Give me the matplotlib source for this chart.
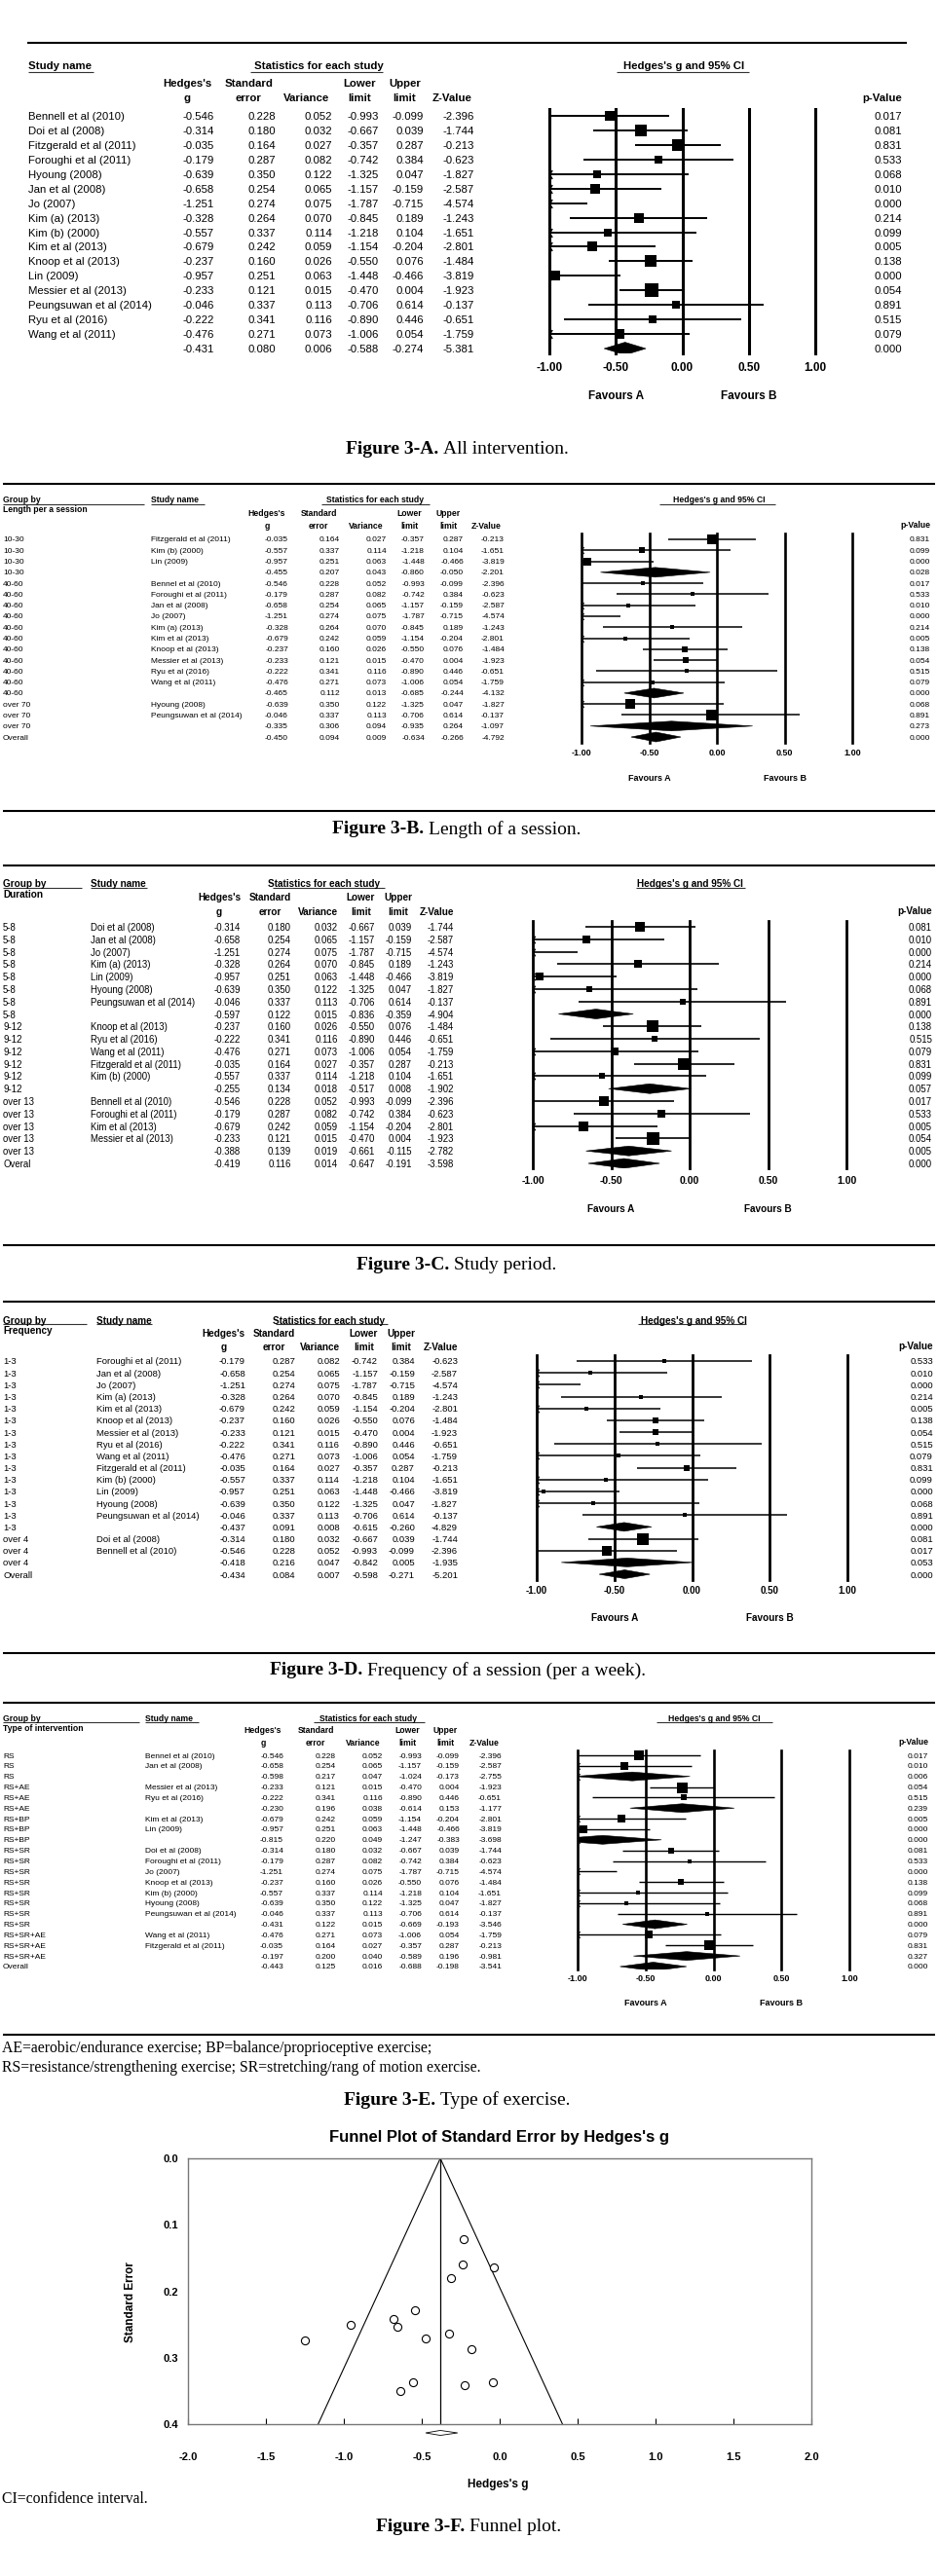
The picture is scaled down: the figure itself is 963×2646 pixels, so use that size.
import numpy as np
import matplotlib
matplotlib.use("Agg")
import matplotlib.pyplot as plt
from matplotlib.transforms import Affine2D, blended_transform_factory
from matplotlib.patches import Polygon
from matplotlib.path import Path
from matplotlib.lines import Line2D

plt.rcParams['font.family'] = ['Liberation Sans', 'DejaVu Sans']
SERIF = ['Liberation Serif', 'DejaVu Serif']

# ------------------------------------------------------------------ data
study_names = ["Bennell et al (2010)", "Doi et al (2008)", "Fitzgerald et al (2011)",
               "Foroughi et al (2011)", "Hyoung (2008)", "Jan et al (2008)", "Jo (2007)",
               "Kim (a) (2013)", "Kim (b) (2000)", "Kim et al (2013)", "Knoop et al (2013)",
               "Lin (2009)", "Messier et al (2013)", "Peungsuwan et al (2014)",
               "Ryu et al (2016)", "Wang et al (2011)"]
hedges_g = [-0.546, -0.314, -0.035, -0.179, -0.639, -0.658, -1.251, -0.328,
            -0.557, -0.679, -0.237, -0.957, -0.233, -0.046, -0.222, -0.476]
std_err = [0.228, 0.180, 0.164, 0.287, 0.350, 0.254, 0.274, 0.264,
           0.337, 0.242, 0.160, 0.251, 0.121, 0.337, 0.341, 0.271]
variance = [0.052, 0.032, 0.027, 0.082, 0.122, 0.065, 0.075, 0.070,
            0.114, 0.059, 0.026, 0.063, 0.015, 0.113, 0.116, 0.073]
lower_limit = [-0.993, -0.667, -0.357, -0.742, -1.325, -1.157, -1.787, -0.845,
               -1.218, -1.154, -0.550, -1.448, -0.470, -0.706, -0.890, -1.006]
upper_limit = [-0.099, 0.039, 0.287, 0.384, 0.047, -0.159, -0.715, 0.189,
               0.104, -0.204, 0.076, -0.466, 0.004, 0.614, 0.446, 0.054]
z_value = [-2.396, -1.744, -0.213, -0.623, -1.827, -2.587, -4.574, -1.243,
           -1.651, -2.801, -1.484, -3.819, -1.923, -0.137, -0.651, -1.759]
p_value = [0.017, 0.081, 0.831, 0.533, 0.068, 0.010, 0.000, 0.214,
           0.099, 0.005, 0.138, 0.000, 0.054, 0.891, 0.515, 0.079]

# summary rows: [g, se, variance, lower, upper, z, p]
all_summary = [-0.431, 0.080, 0.006, -0.588, -0.274, -5.381, 0.000]

length_groups = ["10-30", "40-60", "over 70"]
length_members = [[2, 8, 11], [0, 3, 5, 6, 7, 9, 10, 12, 14, 15], [4, 13]]
length_summaries = [[-0.455, 0.207, 0.043, -0.860, -0.050, -2.201, 0.028],
                    [-0.465, 0.112, 0.013, -0.685, -0.244, -4.132, 0.000],
                    [-0.335, 0.306, 0.094, -0.935, 0.264, -1.097, 0.273]]
length_overall = [-0.450, 0.094, 0.009, -0.634, -0.266, -4.792, 0.000]

duration_groups = ["5-8", "9-12", "over 13"]
duration_members = [[1, 5, 6, 7, 11, 4, 13], [10, 14, 15, 2, 8], [0, 3, 9, 12]]
duration_summaries = [[-0.597, 0.122, 0.015, -0.836, -0.359, -4.904, 0.000],
                      [-0.255, 0.134, 0.018, -0.517, 0.008, -1.902, 0.057],
                      [-0.388, 0.139, 0.019, -0.661, -0.115, -2.782, 0.005]]
duration_overall = [-0.419, 0.116, 0.014, -0.647, -0.191, -3.598, 0.000]

freq_groups = ["1-3", "over 4"]
freq_members = [[3, 5, 6, 7, 9, 10, 12, 14, 15, 2, 8, 11, 4, 13], [1, 0]]
freq_summaries = [[-0.437, 0.091, 0.008, -0.615, -0.260, -4.829, 0.000],
                  [-0.418, 0.216, 0.047, -0.842, 0.005, -1.935, 0.053]]
freq_overall = [-0.434, 0.084, 0.007, -0.598, -0.271, -5.201, 0.000]

type_groups = ["RS", "RS+AE", "RS+BP", "RS+SR", "RS+SR+AE"]
type_members = [[0, 5], [12, 14], [9, 11], [1, 3, 6, 10, 8, 4, 13], [15, 2]]
type_summaries = [[-0.598, 0.217, 0.047, -1.024, -0.173, -2.755, 0.006],
                  [-0.230, 0.196, 0.038, -0.614, 0.153, -1.177, 0.239],
                  [-0.815, 0.220, 0.049, -1.247, -0.383, -3.698, 0.000],
                  [-0.431, 0.122, 0.015, -0.669, -0.193, -3.546, 0.000],
                  [-0.197, 0.200, 0.040, -0.589, 0.196, -0.981, 0.327]]
type_overall = [-0.443, 0.125, 0.016, -0.688, -0.198, -3.541, 0.000]

REF_TICKS = [-1.0, -0.5, 0.0, 0.5, 1.0]
COL_HEADERS = ["Hedges's\ng", "Standard\nerror", "\nVariance", "Lower\nlimit", "Upper\nlimit", "\nZ-Value"]
TAU2 = 0.03  # between-study variance used for box weights (estimated)

FUNNEL_XTICKS = [-2.0, -1.5, -1.0, -0.5, 0.0, 0.5, 1.0, 1.5, 2.0]
FUNNEL_YTICKS = [0.0, 0.1, 0.2, 0.3, 0.4]
FE_ESTIMATE, FE_LOWER, FE_UPPER = -0.381, -0.475, -0.270

# ------------------------------------------------------------------ figure
W, H, DPI = 963, 2646, 100
fig = plt.figure(figsize=(W / DPI, H / DPI), dpi=DPI)
fig.patch.set_facecolor('white')
PX = Affine2D().scale(1.0 / DPI, -1.0 / DPI).translate(0, H / DPI) + fig.dpi_scale_trans

ARROW = Path([(0.6, 1.0), (0.0, 0.0), (0.6, -1.0)], [Path.MOVETO, Path.LINETO, Path.LINETO])


def ftext(x, y, s, **kw):
    kw.setdefault('va', 'center_baseline')
    return fig.text(x, y, s, transform=PX, **kw)


def rule(x0, x1, y, lw=1.5, color='black'):
    fig.add_artist(Line2D([x0, x1], [y, y], transform=PX, color=color, lw=lw,
                          solid_capstyle='butt'))


def study_vals(i):
    return [hedges_g[i], std_err[i], variance[i], lower_limit[i], upper_limit[i],
            z_value[i], p_value[i]]


def build_rows(groups, members, summaries, overall, overall_label, rename):
    rows = []
    for g, mem, summ in zip(groups, members, summaries):
        w = np.array([1.0 / (variance[i] + TAU2) for i in mem])
        share = w / w.sum()
        for i, sh in zip(mem, share):
            rows.append(dict(group=g, name=rename.get(i, study_names[i]),
                             vals=study_vals(i), kind='study', share=sh))
        rows.append(dict(group=g, name='', vals=summ, kind='summary'))
    rows.append(dict(group=overall_label, name='', vals=overall, kind='summary'))
    return rows


def draw_forest(rows, c):
    ax = fig.add_axes([c['xm1'] / W, 1 - c['ybot'] / H,
                       (c['xp1'] - c['xm1']) / W, (c['ybot'] - c['ytop']) / H])
    ax.patch.set_alpha(0)
    ax.set_xlim(REF_TICKS[0], REF_TICKS[-1])
    r_top = (c['ytop'] - c['row0']) / c['sp']
    r_bot = (c['ybot'] - c['row0']) / c['sp']
    ax.set_ylim(r_bot, r_top)
    for s in ax.spines.values():
        s.set_visible(False)
    ax.set_yticks([])
    ax.set_xticks(REF_TICKS)
    ax.set_xticklabels([f'{t:.2f}' for t in REF_TICKS], fontweight='bold',
                       fontsize=c['tick_fs'])
    ax.tick_params(axis='x', length=0, pad=c['tick_pad'])
    for t in REF_TICKS:
        ax.axvline(t, color='black', lw=c['vlw'], clip_on=False, zorder=1)

    tr = blended_transform_factory(PX, ax.transData)
    fs = c['fs']
    max_share = max(r['share'] for r in rows if r['kind'] == 'study')
    for k, r in enumerate(rows):
        g, se, var, lo, hi, z, p = r['vals']
        if c['group_x'] is not None and r['group']:
            ax.text(c['group_x'], k, r['group'], transform=tr, fontsize=fs,
                    va='center_baseline', ha='left')
        if r['name']:
            ax.text(c['name_x'], k, r['name'], transform=tr, fontsize=fs,
                    va='center_baseline', ha='left')
        for val, xr in zip([g, se, var, lo, hi, z], c['cols']):
            ax.text(xr, k, f'{val:.3f}', transform=tr, fontsize=fs,
                    va='center_baseline', ha='right')
        ax.text(c['p_right'], k, f'{p:.3f}', transform=tr, fontsize=fs,
                va='center_baseline', ha='right')
        if r['kind'] == 'study':
            ax.plot([lo, hi], [k, k], color='black', lw=c['ci_lw'],
                    solid_capstyle='butt', zorder=3)
            side_pt = c['max_side'] * np.sqrt(r['share'] / max_share) * 72.0 / DPI
            ax.scatter([g], [k], marker='s', s=side_pt ** 2, color='black',
                       linewidths=0, zorder=4)
        else:
            hh = c['diamond_px'] / c['sp'] / 2.0
            ax.add_patch(Polygon([(lo, k), (g, k - hh), (hi, k), (g, k + hh)],
                                 closed=True, fc='black', ec='black', lw=0.4, zorder=4))
        if lo < REF_TICKS[0]:
            ax.plot([REF_TICKS[0]], [k], marker=ARROW, ms=c['arrow_ms'], mfc='none',
                    mec='black', mew=max(0.7, c['ci_lw'] * 0.7), clip_on=False, zorder=5)

    # favours labels
    trf = blended_transform_factory(ax.transData, PX)
    ax.text(-0.5, c['fav_y'], 'Favours A', transform=trf, ha='center',
            va='center_baseline', fontsize=c['fav_fs'], fontweight='bold')
    ax.text(0.5, c['fav_y'], 'Favours B', transform=trf, ha='center',
            va='center_baseline', fontsize=c['fav_fs'], fontweight='bold')

    # headers
    hf = c['hdr_fs']
    if c['group_x'] is not None:
        ftext(c['group_x'], c['gy1'], 'Group by', fontsize=hf, fontweight='bold')
        ftext(c['group_x'], c['gy2'], c['group_title'], fontsize=hf, fontweight='bold')
        rule(c['group_ul'][0], c['group_ul'][1], c['ul_y'], lw=0.8, color='#333333')
    ftext(c['name_x'], c['gy1'], 'Study name', fontsize=hf, fontweight='bold')
    rule(c['name_ul'][0], c['name_ul'][1], c['ul_y'], lw=0.8, color='#333333')
    ftext(c['stats_cx'], c['gy1'], 'Statistics for each study', ha='center',
          fontsize=hf, fontweight='bold')
    rule(c['stats_ul'][0], c['stats_ul'][1], c['ul_y'], lw=0.8, color='#333333')
    ftext(c['ci_cx'], c['gy1'], "Hedges's g and 95% CI", ha='center',
          fontsize=hf, fontweight='bold')
    rule(c['ci_ul'][0], c['ci_ul'][1], c['ul_y'], lw=0.8, color='#333333')
    ls = (c['hy2'] - c['hy1']) / (0.716 * hf * DPI / 72.0)
    for lab, xr in zip(COL_HEADERS, c['cols']):
        ftext(xr + c['hdr_dx'], (c['hy1'] + c['hy2']) / 2.0, lab, ha='right', va='center',
              multialignment='center', linespacing=ls, fontsize=hf, fontweight='bold')
    ftext(c['p_right'], c['hy2'], 'p-Value', ha='right', fontsize=hf, fontweight='bold')
    return ax


# ------------------------------------------------------------------ panels
rows_A = []
wA = np.array([1.0 / (v + TAU2) for v in variance])
for i in range(len(study_names)):
    rows_A.append(dict(group='', name=study_names[i], vals=study_vals(i), kind='study',
                       share=wA[i] / wA.sum()))
rows_A.append(dict(group='', name='', vals=all_summary, kind='summary'))

cfg_A = dict(xm1=564, xp1=837, ytop=112, ybot=363, row0=119, sp=14.94, fs=8.2,
             cols=[220, 283, 341, 389, 435, 487], p_right=926, name_x=29, group_x=None,
             hy1=87, hy2=100, gy1=67, gy2=None, group_title=None, group_ul=None,
             name_ul=(29, 96), ul_y=74, stats_cx=327, stats_ul=(257, 393), ci_cx=702,
             ci_ul=(633, 769), max_side=14, diamond_px=13, ci_lw=1.4, vlw=2.2, arrow_ms=6.5,
             tick_fs=8.5, tick_pad=6.5, fav_y=406, fav_fs=8.5, hdr_fs=8.2, hdr_dx=-3)

cfg_B = dict(xm1=597, xp1=875, ytop=548, ybot=763, row0=554, sp=11.28, fs=6.0,
             cols=[296, 349, 397, 436, 476, 518], p_right=955, name_x=155, group_x=3,
             hy1=529, hy2=539, gy1=513, gy2=523, group_title='Length per a session',
             group_ul=(3, 148), name_ul=(155, 210), ul_y=518, stats_cx=385,
             stats_ul=(330, 441), ci_cx=738, ci_ul=(677, 796), max_side=11, diamond_px=10,
             ci_lw=1.1, vlw=1.9, arrow_ms=5, tick_fs=6.5, tick_pad=4, fav_y=799,
             fav_fs=6.5, hdr_fs=6.2, hdr_dx=-3)

cfg_C = dict(xm1=547, xp1=869, ytop=946, ybot=1200, row0=952, sp=12.79, fs=6.9,
             cols=[247, 299, 347, 385, 423, 466], p_right=957, name_x=93, group_x=3,
             hy1=924, hy2=935, gy1=907, gy2=918, group_title='Duration',
             group_ul=(3, 84), name_ul=(93, 151), ul_y=912, stats_cx=333,
             stats_ul=(280, 395), ci_cx=708, ci_ul=(653, 765), max_side=13, diamond_px=10,
             ci_lw=1.2, vlw=2.0, arrow_ms=5.5, tick_fs=7.5, tick_pad=5.5, fav_y=1241,
             fav_fs=7.2, hdr_fs=7.2, hdr_dx=0)

cfg_D = dict(xm1=551, xp1=870, ytop=1392, ybot=1623, row0=1398, sp=12.17, fs=6.8,
             cols=[252, 303, 349, 388, 426, 470], p_right=958, name_x=99, group_x=3,
             hy1=1372, hy2=1382, gy1=1356, gy2=1366, group_title='Frequency',
             group_ul=(3, 89), name_ul=(99, 156), ul_y=1360, stats_cx=338,
             stats_ul=(283, 398), ci_cx=712, ci_ul=(655, 766), max_side=12, diamond_px=9,
             ci_lw=1.1, vlw=2.0, arrow_ms=5.5, tick_fs=7, tick_pad=4.5, fav_y=1661,
             fav_fs=7.2, hdr_fs=7.2, hdr_dx=0)

cfg_E = dict(xm1=593, xp1=872, ytop=1798, ybot=2023, row0=1803, sp=10.85, fs=6.0,
             cols=[291, 345, 393, 433, 472, 515], p_right=953, name_x=149, group_x=3,
             hy1=1779, hy2=1789, gy1=1765, gy2=1774, group_title='Type of intervention',
             group_ul=(3, 143), name_ul=(149, 204), ul_y=1769, stats_cx=378,
             stats_ul=(322, 436), ci_cx=733, ci_ul=(674, 793), max_side=11, diamond_px=9,
             ci_lw=1.0, vlw=1.9, arrow_ms=5, tick_fs=6.5, tick_pad=3.5, fav_y=2057,
             fav_fs=6.5, hdr_fs=6.2, hdr_dx=-2)

draw_forest(rows_A, cfg_A)
draw_forest(build_rows(length_groups, length_members, length_summaries, length_overall,
                       'Overall', {0: 'Bennel et al (2010)'}), cfg_B)
draw_forest(build_rows(duration_groups, duration_members, duration_summaries,
                       duration_overall, 'Overal', {}), cfg_C)
draw_forest(build_rows(freq_groups, freq_members, freq_summaries, freq_overall,
                       'Overall', {}), cfg_D)
draw_forest(build_rows(type_groups, type_members, type_summaries, type_overall,
                       'Overall', {0: 'Bennel et al (2010)'}), cfg_E)

# horizontal rules
rule(28, 931, 44, lw=1.5)
for y in [497, 833, 889, 1279, 1337, 1698, 1749, 2090]:
    rule(3, 960, y, lw=1.5)

# ------------------------------------------------------------------ funnel plot
axf = fig.add_axes([193 / W, 1 - 2490 / H, 640 / W, 273 / H])
axf.set_xlim(FUNNEL_XTICKS[0], FUNNEL_XTICKS[-1])
axf.set_ylim(FUNNEL_YTICKS[-1], FUNNEL_YTICKS[0])
se_max = FUNNEL_YTICKS[-1]
axf.plot([FE_ESTIMATE - 1.96 * se_max, FE_ESTIMATE, FE_ESTIMATE + 1.96 * se_max],
         [se_max, 0.0, se_max], color='black', lw=0.8, zorder=2)
axf.plot([FE_ESTIMATE, FE_ESTIMATE], [0.0, se_max], color='black', lw=0.9, zorder=2)
axf.scatter(hedges_g, std_err, s=34, facecolors='white', edgecolors='black',
            linewidths=0.8, zorder=3)
dy = 0.0037
yd = se_max + 0.0132
axf.add_patch(Polygon([(FE_LOWER, yd), (FE_ESTIMATE, yd - dy), (FE_UPPER, yd),
                       (FE_ESTIMATE, yd + dy)], closed=True, fill=False, ec='black',
                      lw=0.6, clip_on=False))
for s in axf.spines.values():
    s.set_color('#777777')
    s.set_linewidth(1.0)
axf.set_xticks(FUNNEL_XTICKS)
axf.set_xticklabels([f'{t:.1f}' for t in FUNNEL_XTICKS], fontweight='bold', fontsize=8)
axf.set_yticks(FUNNEL_YTICKS)
axf.set_yticklabels([f'{t:.1f}' for t in FUNNEL_YTICKS], fontweight='bold', fontsize=8)
axf.tick_params(axis='x', direction='in', length=4, width=0.8, pad=21)
axf.tick_params(axis='y', length=0, pad=7)
axf.set_xlabel("Hedges's g", fontweight='bold', fontsize=8.5)
axf.set_ylabel('Standard Error', fontweight='bold', fontsize=8.5)
axf.xaxis.set_label_coords(0.498, -0.205)
axf.yaxis.set_label_coords(-0.083, 0.46)
ftext(512, 2194, "Funnel Plot of Standard Error by Hedges's g", ha='center',
      fontsize=12, fontweight='bold')

# ------------------------------------------------------------------ captions & notes
NOTE_FS = 11.3
ftext(2, 2102, 'AE=aerobic/endurance exercise; BP=balance/proprioceptive exercise;',
      family=SERIF, fontsize=NOTE_FS)
ftext(2, 2122, 'RS=resistance/strengthening exercise; SR=stretching/rang of motion exercise.',
      family=SERIF, fontsize=NOTE_FS)
ftext(2, 2565, 'CI=confidence interval.', family=SERIF, fontsize=NOTE_FS)

captions = [("Figure 3-A.", "All intervention.", 469, 459),
            ("Figure 3-B.", "Length of a session.", 469, 850),
            ("Figure 3-C.", "Study period.", 469, 1297),
            ("Figure 3-D.", "Frequency of a session (per a week).", 470, 1714),
            ("Figure 3-E.", "Type of exercise.", 469, 2155),
            ("Figure 3-F.", "Funnel plot.", 481, 2593)]
CAP_FS = 14
cap_artists = []
for b, rest, cx, y in captions:
    t1 = ftext(0, y, b, family=SERIF, fontsize=CAP_FS, fontweight='bold')
    t2 = ftext(0, y, rest, family=SERIF, fontsize=CAP_FS)
    cap_artists.append((t1, t2, cx))

fig.canvas.draw()
renderer = fig.canvas.get_renderer()
gap = CAP_FS * 0.25 * DPI / 72.0
for t1, t2, cx in cap_artists:
    w1 = t1.get_window_extent(renderer).width
    w2 = t2.get_window_extent(renderer).width
    x0 = cx - (w1 + gap + w2) / 2.0
    t1.set_x(x0)
    t2.set_x(x0 + w1 + gap)

fig.savefig('out.png', dpi=DPI, facecolor='white')
